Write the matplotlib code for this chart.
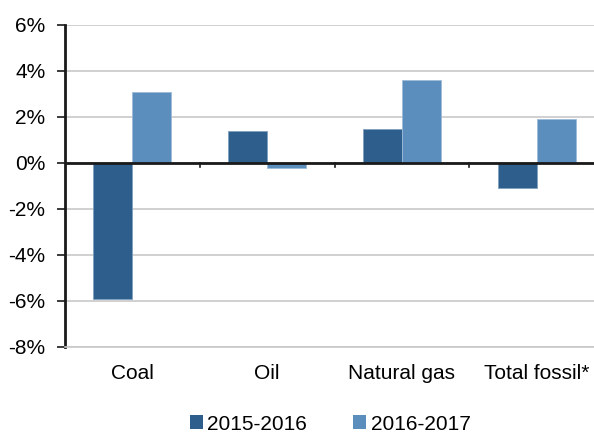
import matplotlib
matplotlib.use("Agg")
import matplotlib.pyplot as plt
import numpy as np
from matplotlib.patches import Patch

categories = ["Coal", "Oil", "Natural gas", "Total fossil*"]
series_names = ["2015-2016", "2016-2017"]
change_2015_2016 = [-5.9, 1.4, 1.5, -1.1]
change_2016_2017 = [3.1, -0.2, 3.6, 1.9]
y_ticks = [-8, -6, -4, -2, 0, 2, 4, 6]

dark_blue = "#2E5E8C"
light_blue = "#5B8DBD"

plt.rcParams["font.family"] = ["Liberation Sans", "DejaVu Sans"]
plt.rcParams["font.size"] = 15

fig = plt.figure(figsize=(5.94, 4.32), dpi=100)
W, H = 594, 432
ax = fig.add_axes([65 / W, 85 / H, (604 - 65) / W, 322 / H])

x = np.arange(len(categories))
bw = 0.29
ax.bar(x - bw / 2, change_2015_2016, bw, color=dark_blue,
       edgecolor="#7FA0C0", linewidth=0.6, zorder=2)
ax.bar(x + bw / 2, change_2016_2017, bw, color=light_blue,
       edgecolor="#9DBBD8", linewidth=0.6, zorder=2)

ax.set_xlim(-0.5, len(categories) - 0.5)
ax.set_ylim(-8, 6)
ax.set_yticks(y_ticks)
ax.set_yticklabels([f"{v}%" for v in y_ticks])
ax.grid(axis="y", color="#C8C8C8", linewidth=1.2, zorder=0)
ax.set_axisbelow(True)

# zero baseline with small category separators hanging below it
ax.axhline(0, color="#1A1A1A", linewidth=2, zorder=3)
for b in np.arange(0.5, len(categories) - 0.5, 1.0):
    ax.plot([b, b], [0, -0.17], color="#1A1A1A", linewidth=1.2, zorder=3,
            clip_on=False)

ax.set_xticks(x)
ax.set_xticklabels(categories)
ax.tick_params(axis="x", length=0, pad=12)
ax.tick_params(axis="y", length=6, width=1.2, color="#1A1A1A", pad=8)

for side in ["top", "right"]:
    ax.spines[side].set_visible(False)
ax.spines["left"].set_color("#1A1A1A")
ax.spines["left"].set_linewidth(2)
ax.spines["bottom"].set_color("#C8C8C8")
ax.spines["bottom"].set_linewidth(1.2)

handles = [Patch(facecolor=dark_blue, edgecolor="none"),
           Patch(facecolor=light_blue, edgecolor="none")]
fig.legend(handles, series_names, loc="center", bbox_to_anchor=(330 / W, 1 - 424 / H),
           ncol=2, frameon=False, handlelength=0.65, handleheight=0.65,
           handletextpad=0.2, columnspacing=2.2, fontsize=15)

fig.savefig("out.png", dpi=100)
